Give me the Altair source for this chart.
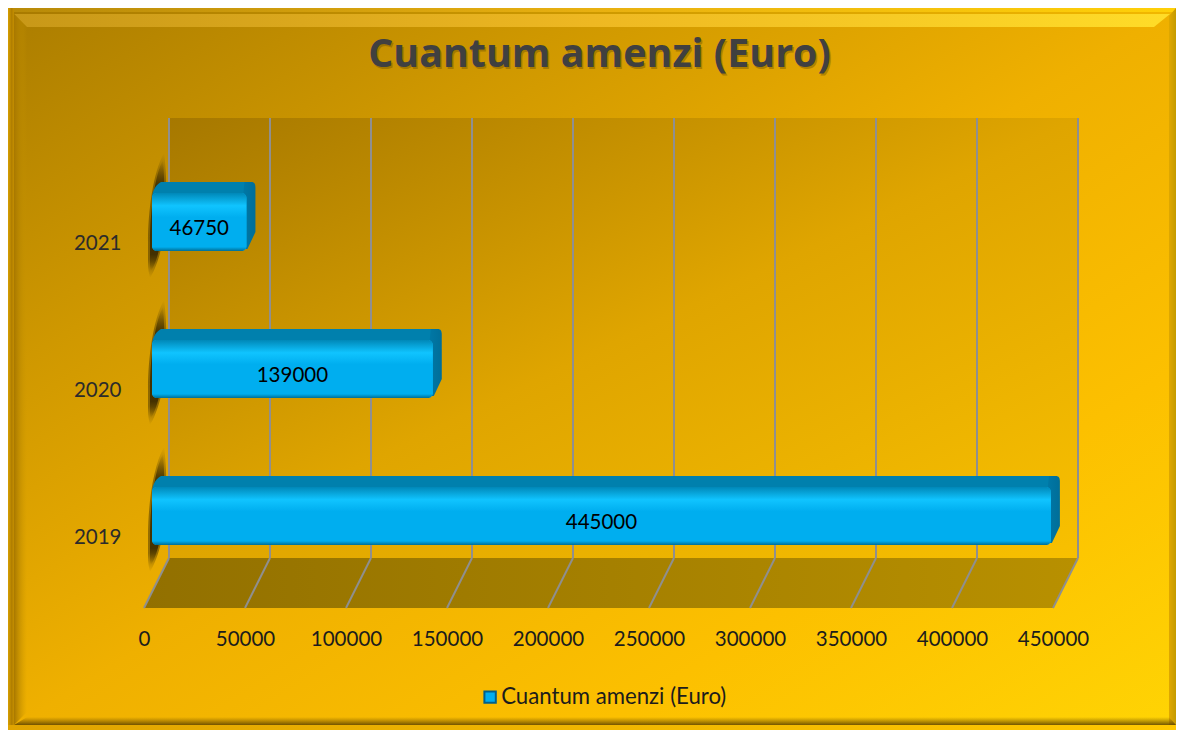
import altair as alt
import pandas as pd

TITLE = "Cuantum amenzi (Euro)"
YEARS = ["2021", "2020", "2019"]
VALUES = [46750, 139000, 445000]
TICKS = [0, 50000, 100000, 150000, 200000, 250000, 300000, 350000, 400000, 450000]

W, H = 1168, 722
FONT = "Lato"
X0, X1 = 136, 1045
UNITS_PER_PX = 450000 / (X1 - X0)
DEPTH = 25 * UNITS_PER_PX

bars = pd.DataFrame({"year": YEARS, "value": VALUES, "half": [v / 2 for v in VALUES],
                     "zero": [0, 0, 0], "series": [TITLE] * 3})
ticks = pd.DataFrame({"t": TICKS, "back": [t + DEPTH for t in TICKS]})
one = pd.DataFrame({"a": [0]})
title_df = pd.DataFrame({"t": [TITLE]})

xs = alt.Scale(domain=[0, 450000], range=[X0, X1], nice=False, zero=False)
ys = alt.Scale(type="band", domain=YEARS, range=[160.5, 601.5], padding=0)
xa = alt.Axis(values=TICKS, format="d", orient="bottom", offset=600 - H, domain=False, ticks=False,
              grid=False, labelPadding=21, labelFont=FONT, labelFontSize=20.5, labelColor="#1c1c1c",
              zindex=3, labelOverlap=False, labelFlush=False, title=None)
ya = alt.Axis(orient="left", offset=-113, domain=False, ticks=False, grid=False, labelPadding=0,
              labelFont=FONT, labelFontSize=20.5, labelColor="#2b2b2b", labelAngle=0, zindex=3,
              labelOffset=2, title=None)


def X(field):
    return alt.X(field, scale=xs, axis=xa)


def Y():
    return alt.Y("year:N", scale=ys, axis=ya)


def grad(stops, x1=0, y1=0, x2=1, y2=0):
    return alt.Gradient(gradient="linear", x1=x1, y1=y1, x2=x2, y2=y2,
                        stops=[alt.GradientStop(offset=o, color=c) for o, c in stops])


def poly(path, fill):
    return alt.Chart(one).mark_point(shape=path, size=4, filled=True, fill=fill,
                                     strokeWidth=0, opacity=1).encode(
        x=alt.value(0), y=alt.value(0))


def at_bar(path, fill, field):
    return alt.Chart(bars).mark_point(shape=path, size=4, filled=True, fill=fill,
                                      strokeWidth=0, opacity=1).encode(x=X(f"{field}:Q"), y=Y())


# background and frame
bg = alt.Chart(one).mark_rect(
    fill=grad([(0, "#ab7d00"), (0.25, "#cf9800"), (0.5, "#efb000"), (0.75, "#fcc000"), (1, "#ffd404")],
              0, 0, 1, 1)).encode(
    x=alt.value(0), x2=alt.value(W), y=alt.value(0), y2=alt.value(H))

frame = [
    poly(f"M0,0L{W},0L{W},6L0,6Z", grad([(0, "#b88a08"), (0.5, "#e8b010"), (1, "#ffd008")])),
    poly(f"M0,4L{W},4L{W},6L0,6Z", grad([(0, "#a87a00"), (1, "#f2b800")])),
    poly(f"M6,6L{W-6},6L{W-22},19L19,19Z", grad([(0, "#c89818"), (0.5, "#eeb822"), (1, "#ffdc28")])),
    poly(f"M0,0L6,0L6,{H}L0,{H}Z", grad([(0, "#d8a000"), (0.6, "#b07e00"), (1, "#c48e00")])),
    poly(f"M6,6L19,19L19,{H-18}L6,{H-5}Z", grad([(0, "#a87800"), (1, "rgba(200,150,0,0)")])),
    poly(f"M{W},0L{W-7},8L{W-7},{H-5}L{W},{H}Z", grad([(0, "#e0a800"), (1, "#c49a00")])),
    poly(f"M6,{H-5}L19,{H-13}L{W-7},{H-13}L{W},{H-5}Z",
         grad([(0, "rgba(120,85,0,0)"), (1, "rgba(90,65,0,0.85)")], 0, 0, 0, 1)),
    poly(f"M0,{H-5}L{W},{H-5}L{W},{H}L0,{H}Z", grad([(0, "#e0a400"), (1, "#ffc800")])),
]

# walls
wall = alt.Chart(one).mark_rect(
    fill=grad([(0, "#a67800"), (0.5, "#dfa500"), (1, "#f8c000")], 0, 0, 1, 1)).encode(
    x=alt.value(X0 + 25), x2=alt.value(X1 + 25), y=alt.value(110), y2=alt.value(550))
floor = poly(f"M{X0},600L{X0+25},550L{X1+25},550L{X1},600Z",
             grad([(0, "#927000"), (1, "#b89000")]))

grid_back = alt.Chart(ticks).mark_rule(color="#8f8f8f", strokeWidth=2).encode(
    x=X("back:Q"), y=alt.value(110), y2=alt.value(550))
grid_floor = alt.Chart(ticks).mark_rule(color="#8f8f8f", strokeWidth=2).encode(
    x=X("t:Q"), x2="back:Q", y=alt.value(600), y2=alt.value(550))

# soft lens shaped shadow behind each bar
LENS_OUT = "M20,-89C9,-70 4,-30 4,0L4,20C4,27 5,32 6,36C13,25 21,0 22,-30C23,-55 22,-75 20,-89Z"
LENS_IN = "M19,-82C11,-68 6,-30 6,0L6,20C6,24 6,27 7,29C12,22 19,0 20,-30C21,-52 20,-70 19,-82Z"
shadow_out = at_bar(LENS_OUT, grad([(0, "rgba(50,35,0,0)"), (0.25, "rgba(50,35,0,0.45)"),
                                    (0.85, "rgba(50,35,0,0.45)"), (1, "rgba(50,35,0,0)")], 0, 0, 0, 1), "zero")
shadow_in = at_bar(LENS_IN, grad([(0, "rgba(50,35,0,0)"), (0.25, "rgba(50,35,0,0.8)"),
                                  (0.85, "rgba(50,35,0,0.8)"), (1, "rgba(50,35,0,0)")], 0, 0, 0, 1), "zero")

# bar: top face
top_face = alt.Chart(bars).mark_bar(size=18, cornerRadius=5, color="#0080ad", xOffset=16, x2Offset=16,
                                    yOffset=-51).encode(x=X("value:Q"), x2=alt.datum(0), y=Y())
chamfer = at_bar("M8,-44C8,-52 13,-58 17,-60L30,-60L30,-44Z", "#0080ad", "zero")
side = at_bar("M6,-60L13,-60C16,-60 17,-58 17,-54L17,-10L9,7L4,7L4,-40Z",
              grad([(0, "#0078a6"), (1, "#006e99")]), "value")

# bar: front face, real colour channel for the legend
base = alt.Chart(bars).mark_bar(size=58, yOffset=-20, xOffset=8, x2Offset=8, cornerRadius=5).encode(
    x=X("value:Q"), x2=alt.datum(0), y=Y(),
    color=alt.Color("series:N", scale=alt.Scale(domain=[TITLE], range=["#00aeef"]),
                    legend=alt.Legend(orient="none", legendX=471, legendY=678, title=None,
                                      symbolType="square", symbolSize=130, symbolStrokeColor="#00608a",
                                      symbolStrokeWidth=2, labelFont=FONT, labelFontSize=22.2,
                                      labelColor="#1c1c1c", labelOffset=0, symbolOpacity=1,
                                      labelLimit=400)))
front = alt.Chart(bars).mark_bar(
    size=58, yOffset=-20, xOffset=8, x2Offset=8, cornerRadius=5,
    fill=grad([(0, "#0088b8"), (0.22, "#10c4ff"), (0.42, "#00aeef"), (0.93, "#00aeef"), (1, "#006f96")],
              0, 0, 0, 1)).encode(x=X("value:Q"), x2=alt.datum(0), y=Y())

labels = alt.Chart(bars).mark_text(font=FONT, fontSize=20.5, color="#000000", xOffset=8, yOffset=-13).encode(
    x=X("half:Q"), y=Y(), text=alt.Text("value:Q", format="d"))

TF = "Open Sans"
title_shadow = alt.Chart(title_df).mark_text(font=TF, fontSize=39.4, fontWeight="bold", color="#6a4e00",
                                             opacity=0.4, baseline="alphabetic").encode(
    x=alt.value(593), y=alt.value(61), text="t:N")
title_txt = alt.Chart(title_df).mark_text(font=TF, fontSize=39.4, fontWeight="bold", color="#404040",
                                          baseline="alphabetic").encode(
    x=alt.value(591.5), y=alt.value(59), text="t:N")

layers = [bg] + frame + [wall, floor, grid_back, grid_floor, shadow_out, shadow_in, top_face, chamfer, side,
                         base, front, labels, title_shadow, title_txt]

chart = alt.layer(*layers).properties(
    width=W, height=H, padding=0, autosize=alt.AutoSizeParams(type="none"),
).configure_view(strokeWidth=0)

chart.save("out.html", embed_options={"renderer": "svg", "actions": False})
